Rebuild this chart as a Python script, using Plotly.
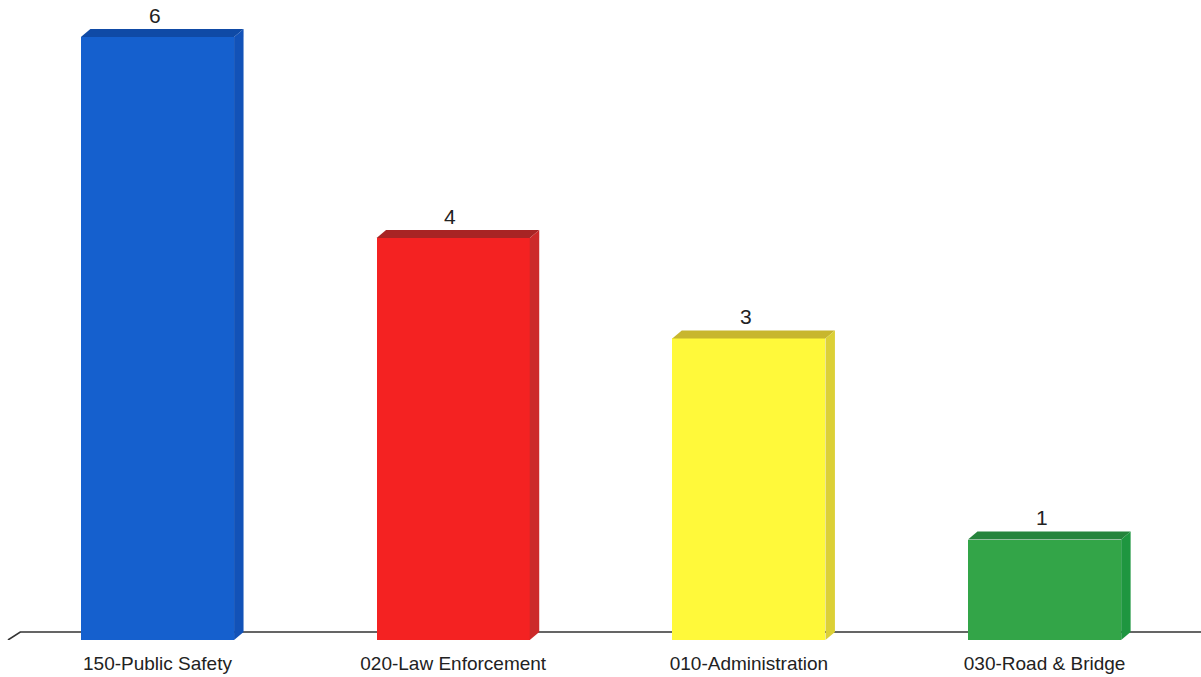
import plotly.graph_objects as go

# Incident counts by department
categories = ["150-Public Safety", "020-Law Enforcement", "010-Administration", "030-Road & Bridge"]
counts = [6, 4, 3, 1]

front_colors = ["#1560CE", "#F42222", "#FFF93A", "#33A548"]
top_colors = ["#0F4AA6", "#A82424", "#C8B62E", "#25843C"]
side_colors = ["#1252B8", "#CC2A2A", "#DCD036", "#1E9640"]

# 3D extrusion (in axis units)
bar_w = 0.518
depth_x = 0.032
depth_y = 0.08

x_pos = list(range(len(categories)))

fig = go.Figure()

# Front faces
fig.add_trace(go.Bar(
    x=x_pos, y=counts, width=bar_w,
    marker=dict(color=front_colors, line=dict(width=0)),
    hoverinfo="skip", showlegend=False,
))

# Top and side faces
for xi, v, tc, sc in zip(x_pos, counts, top_colors, side_colors):
    x0, x1 = xi - bar_w / 2, xi + bar_w / 2
    fig.add_trace(go.Scatter(
        x=[x0, x1, x1 + depth_x, x0 + depth_x, x0],
        y=[v, v, v + depth_y, v + depth_y, v],
        fill="toself", fillcolor=tc, mode="lines", line=dict(width=0),
        hoverinfo="skip", showlegend=False,
    ))
    fig.add_trace(go.Scatter(
        x=[x1, x1 + depth_x, x1 + depth_x, x1, x1],
        y=[0, depth_y, v + depth_y, v, 0],
        fill="toself", fillcolor=sc, mode="lines", line=dict(width=0),
        hoverinfo="skip", showlegend=False,
    ))

x_min, x_max = -0.5326, 3.529
y_max = 6.368

# Floor line behind the bars
floor_left = x_min + 0.027
fig.add_shape(
    type="path",
    path=f"M {floor_left},0 L {floor_left + depth_x * 1.3},{depth_y} L {x_max},{depth_y}",
    line=dict(color="#333333", width=1.6), layer="below",
)

# Value labels
for xi, v in zip(x_pos, counts):
    fig.add_annotation(
        x=xi - 0.01, y=v + depth_y, text=str(v), showarrow=False,
        yanchor="bottom", yshift=0,
        font=dict(family="Liberation Sans, Arial, sans-serif", size=21, color="#222222"),
    )

fig.update_layout(
    width=1201, height=677,
    margin=dict(l=0, r=0, t=0, b=37),
    paper_bgcolor="white", plot_bgcolor="white",
    bargap=0,
    xaxis=dict(
        range=[x_min, x_max], tickvals=x_pos, ticktext=categories,
        showgrid=False, zeroline=False, showline=False,
        ticks="outside", ticklen=6, tickcolor="rgba(0,0,0,0)",
        tickfont=dict(family="Liberation Sans, Arial, sans-serif", size=19, color="#222222"),
    ),
    yaxis=dict(range=[0, y_max], visible=False, showgrid=False, zeroline=False),
)

fig.write_html("out.html")
